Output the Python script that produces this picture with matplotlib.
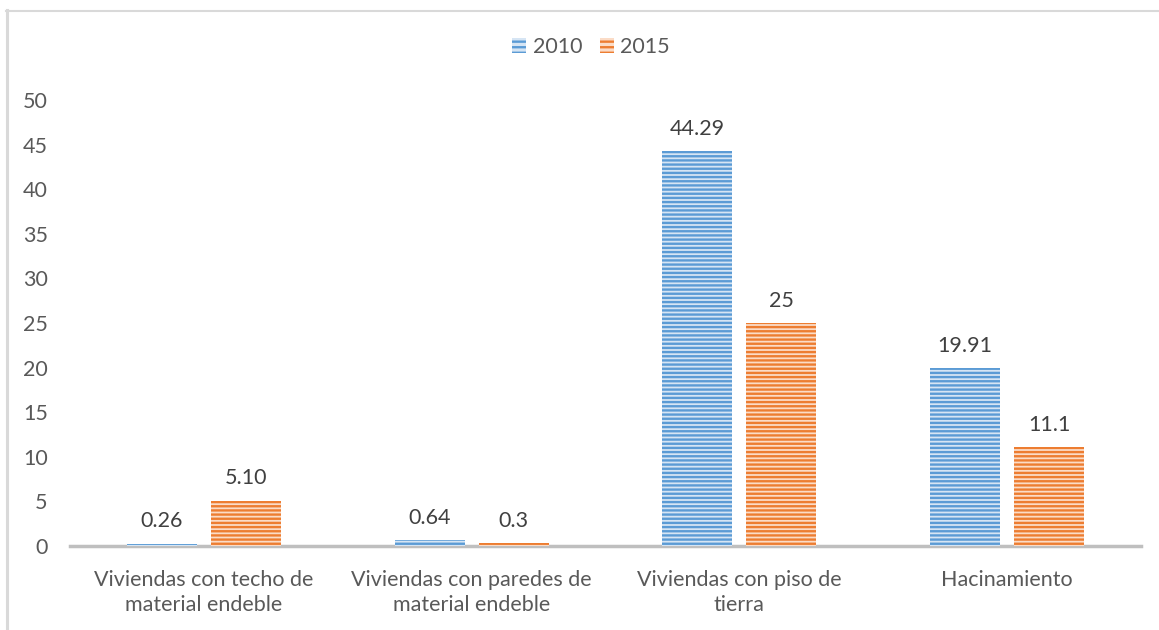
import matplotlib
matplotlib.use("Agg")
import matplotlib.pyplot as plt
import numpy as np
from matplotlib.lines import Line2D
from matplotlib.patches import Patch

categories = ["Viviendas con techo de\nmaterial endeble",
              "Viviendas con paredes de\nmaterial endeble",
              "Viviendas con piso de\ntierra",
              "Hacinamiento"]
series_names = ["2010", "2015"]
values_2010 = [0.26, 0.64, 44.29, 19.91]
values_2015 = [5.10, 0.3, 25, 11.1]
labels_2010 = ["0.26", "0.64", "44.29", "19.91"]
labels_2015 = ["5.10", "0.3", "25", "11.1"]
yticks = [0, 5, 10, 15, 20, 25, 30, 35, 40, 45, 50]

plt.rcParams['font.family'] = ['Lato', 'DejaVu Sans']
plt.rcParams['hatch.linewidth'] = 1.7

FS = 15.5

W, H = 1159, 630
fig = plt.figure(figsize=(W / 100, H / 100), dpi=100)

# frame lines (left and top)
fig.add_artist(Line2D([7 / W, 7 / W], [0, 1 - 10 / H], color="#d9d9d9", lw=2.2, transform=fig.transFigure))
fig.add_artist(Line2D([6 / W, 1], [1 - 10.5 / H, 1 - 10.5 / H], color="#d9d9d9", lw=1.5, transform=fig.transFigure))

ax = fig.add_axes([70 / W, (H - 546) / H, (1141 - 70) / W, (546 - 100) / H])

blue = "#5b9bd5"
orange = "#ed7d31"
blue_face = "#d6e5f4"
orange_face = "#fbdcc7"

x = np.arange(len(categories))
bw = 0.262
off = 0.157

ax.bar(x - off, values_2010, bw, facecolor=blue_face, edgecolor=blue, hatch="----", linewidth=0)
ax.bar(x + off, values_2015, bw, facecolor=orange_face, edgecolor=orange, hatch="----", linewidth=0)

for xi, v, lab in zip(x, values_2010, labels_2010):
    ax.annotate(lab, (xi - off, v), xytext=(0, 16), textcoords="offset points",
                ha="center", va="center", fontsize=FS, color="#404040")
for xi, v, lab in zip(x, values_2015, labels_2015):
    ax.annotate(lab, (xi + off, v), xytext=(0, 16), textcoords="offset points",
                ha="center", va="center", fontsize=FS, color="#404040")

ax.set_xlim(-0.5, len(categories) - 0.5)
ax.set_ylim(0, 50)
ax.set_yticks(yticks)
ax.set_yticklabels([str(t) for t in yticks], fontsize=FS, color="#595959")
ax.set_xticks(x)
ax.set_xticklabels(categories, fontsize=FS, color="#595959", linespacing=1.33)
ax.tick_params(axis="both", length=0)
ax.tick_params(axis="y", pad=16)
ax.tick_params(axis="x", pad=17)
for s in ["top", "right", "left"]:
    ax.spines[s].set_visible(False)
ax.spines["bottom"].set_color("#bfbfbf")
ax.spines["bottom"].set_linewidth(2.5)
ax.spines["bottom"].set_zorder(0.5)

handles = [Patch(facecolor=blue_face, edgecolor=blue, hatch="---", linewidth=0),
           Patch(facecolor=orange_face, edgecolor=orange, hatch="---", linewidth=0)]
fig.legend(handles, series_names, loc="center", bbox_to_anchor=(591 / W, 1 - 47 / H), ncol=2,
           frameon=False, fontsize=FS, labelcolor="#595959", handlelength=0.65,
           handleheight=0.65, handletextpad=0.3, columnspacing=0.8)

fig.savefig("out.png", dpi=100)
